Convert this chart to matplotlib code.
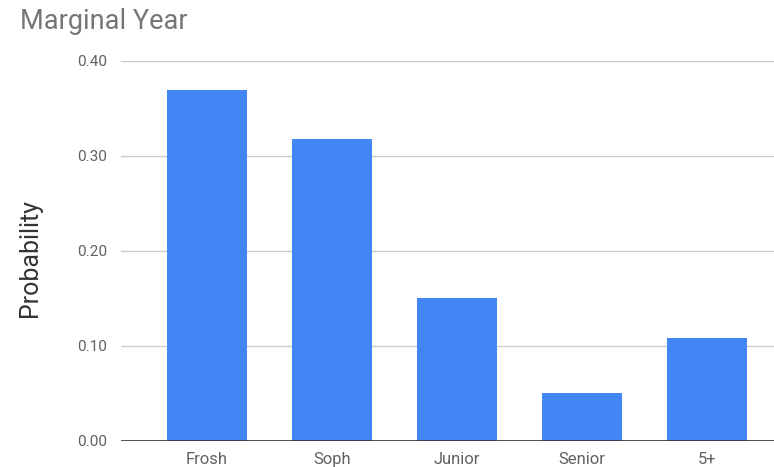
import matplotlib.pyplot as plt

plt.rcParams['font.family'] = ['Roboto', 'DejaVu Sans']

# marginal distribution of class year
years = ["Frosh", "Soph", "Junior", "Senior", "5+"]
probs = [0.369, 0.318, 0.150, 0.050, 0.108]
yticks = [0.0, 0.1, 0.2, 0.3, 0.4]

fig = plt.figure(figsize=(7.74, 4.67), dpi=100)
ax = fig.add_axes([0.1563, 0.0557, 0.8437, 0.8143])

x = range(len(years))
ax.bar(x, probs, width=0.64, color="#4285f4", zorder=3)

ax.set_xlim(-0.688, 4.536)
ax.set_ylim(0, 0.40)
ax.set_yticks(yticks)
ax.set_yticklabels(["%.2f" % v for v in yticks])
ax.set_xticks(list(x))
ax.set_xticklabels(years)

ax.grid(axis="y", color="#cccccc", linewidth=1, zorder=0)
ax.axhline(0, color="#333333", linewidth=1.2, zorder=4)
for s in ax.spines.values():
    s.set_visible(False)
ax.tick_params(axis="both", length=0, labelcolor="#616161")
ax.tick_params(axis="y", pad=10, labelsize=11)
ax.tick_params(axis="x", pad=8, labelsize=12)

ax.set_ylabel("Probability", fontsize=18, color="#333333")
ax.yaxis.set_label_coords(-0.121, 0.48)
fig.text(0.026, 0.955, "Marginal Year", fontsize=19.5, color="#757575",
         ha="left", va="center")

fig.savefig("out.png", dpi=100)
